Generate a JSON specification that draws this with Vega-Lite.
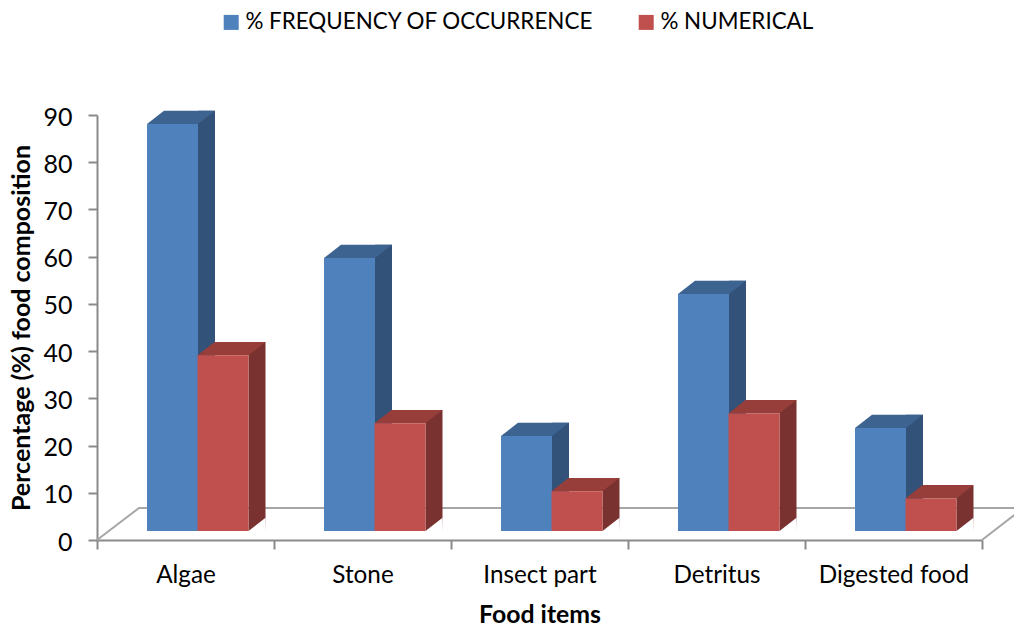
{
"$schema":"https://vega.github.io/schema/vega-lite/v6.json",
"width":885,"height":425,
"autosize":{"type":"none"},
"padding":{"left":97,"top":115,"right":32,"bottom":87},
"background":"white",
"config":{"view":{"stroke":null},"font":"Lato"},
"data":{"values":[
{"food":"Algae","series":"% FREQUENCY OF OCCURRENCE","value":86.2},
{"food":"Stone","series":"% FREQUENCY OF OCCURRENCE","value":57.8},
{"food":"Insect part","series":"% FREQUENCY OF OCCURRENCE","value":20.1},
{"food":"Detritus","series":"% FREQUENCY OF OCCURRENCE","value":50.2},
{"food":"Digested food","series":"% FREQUENCY OF OCCURRENCE","value":21.8},
{"food":"Algae","series":"% NUMERICAL","value":37.2},
{"food":"Stone","series":"% NUMERICAL","value":22.8},
{"food":"Insect part","series":"% NUMERICAL","value":8.4},
{"food":"Detritus","series":"% NUMERICAL","value":24.9},
{"food":"Digested food","series":"% NUMERICAL","value":6.9}
]},
"encoding":{
"x":{"field":"food","type":"nominal","sort":null,"scale":{"domain":["Algae","Stone","Insect part","Detritus","Digested food"],"paddingInner":0,"paddingOuter":0},
"axis":{"title":"Food items","titleFontSize":24.8,"titleFontWeight":"bold","titleColor":"#000","titlePadding":15,"labelAngle":0,"labelFontSize":24.3,"labelColor":"#000","labelPadding":14,"labelLimit":300,"domainColor":"#8a8a8a","domainWidth":2,"tickColor":"#8a8a8a","tickWidth":2,"tickSize":9,"tickBand":"extent"}},
"y":{"field":"value","type":"quantitative","stack":null,"scale":{"domain":[0,90],"nice":false},
"axis":{"title":"Percentage (%) food composition","titleFontSize":25,"titleFontWeight":"bold","titleColor":"#000","titlePadding":8,"labelFontSize":25,"labelColor":"#000","labelPadding":16,"labelOffset":2,"values":[0,10,20,30,40,50,60,70,80,90],"domainColor":"#8a8a8a","domainWidth":2,"tickColor":"#8a8a8a","tickWidth":2,"tickSize":9,"grid":false}}
},
"layer":[
{"transform":[{"filter":"datum.food==='Algae' && datum.series==='% NUMERICAL'"}],
 "mark":{"type":"point","shape":"M-88.5,0L-46.5,-32L840,-32M796.5,0L838,-32","size":4,"filled":false,"stroke":"#a6a6a6","strokeWidth":2,"opacity":1},
 "encoding":{"y":{"datum":0}}},

{"transform":[{"filter":"datum.series==='% FREQUENCY OF OCCURRENCE'"}],
 "mark":{"type":"bar","width":17,"color":"#335279","xOffset":21,"yOffset":-22.3,"y2Offset":-9},
 "encoding":{"y2":{"datum":0}}},
{"transform":[{"filter":"datum.series==='% FREQUENCY OF OCCURRENCE'"}],
 "mark":{"type":"point","shape":"M0,0L17,-13.3L17.5,1L0,1Z","size":4,"filled":true,"fill":"white","strokeWidth":0,"opacity":1,"xOffset":12.5,"yOffset":-9},
 "encoding":{"y":{"datum":0}}},
{"transform":[{"filter":"datum.series==='% FREQUENCY OF OCCURRENCE'"}],
 "mark":{"type":"point","shape":"M-25.5,0L25.5,0L42.5,-13.3L-8.5,-13.3Z","size":4,"filled":true,"fill":"#3d6390","strokeWidth":0,"opacity":1,"xOffset":-13,"yOffset":-9}},
{"transform":[{"filter":"datum.series==='% FREQUENCY OF OCCURRENCE'"}],
 "mark":{"type":"bar","width":51,"xOffset":-13,"yOffset":-9,"y2Offset":-9},
 "encoding":{"y2":{"datum":0},
  "color":{"field":"series","type":"nominal","scale":{"domain":["% FREQUENCY OF OCCURRENCE","% NUMERICAL"],"range":["#4f81bd","#c0504d"]},
   "legend":{"orient":"none","legendX":123,"legendY":-104,"direction":"horizontal","title":null,"labelFontSize":22.4,"labelColor":"#000","labelLimit":500,"symbolType":"square","symbolSize":225,"symbolStrokeWidth":0,"labelOffset":3,"columnPadding":41,"symbolOpacity":1}}}},

{"transform":[{"filter":"datum.series==='% NUMERICAL'"}],
 "mark":{"type":"bar","width":17,"color":"#7a3230","xOffset":71.5,"yOffset":-22.3,"y2Offset":-9},
 "encoding":{"y2":{"datum":0}}},
{"transform":[{"filter":"datum.series==='% NUMERICAL'"}],
 "mark":{"type":"point","shape":"M0,0L17,-13.3L17.5,1L0,1Z","size":4,"filled":true,"fill":"white","strokeWidth":0,"opacity":1,"xOffset":63,"yOffset":-9},
 "encoding":{"y":{"datum":0}}},
{"transform":[{"filter":"datum.series==='% NUMERICAL'"}],
 "mark":{"type":"point","shape":"M-25.5,0L25.5,0L42.5,-13.3L-8.5,-13.3Z","size":4,"filled":true,"fill":"#973d3a","strokeWidth":0,"opacity":1,"xOffset":37.5,"yOffset":-9}},
{"transform":[{"filter":"datum.series==='% NUMERICAL'"}],
 "mark":{"type":"bar","width":51,"xOffset":37.5,"yOffset":-9,"y2Offset":-9},
 "encoding":{"y2":{"datum":0},
  "color":{"field":"series","type":"nominal"}}}
]
}
